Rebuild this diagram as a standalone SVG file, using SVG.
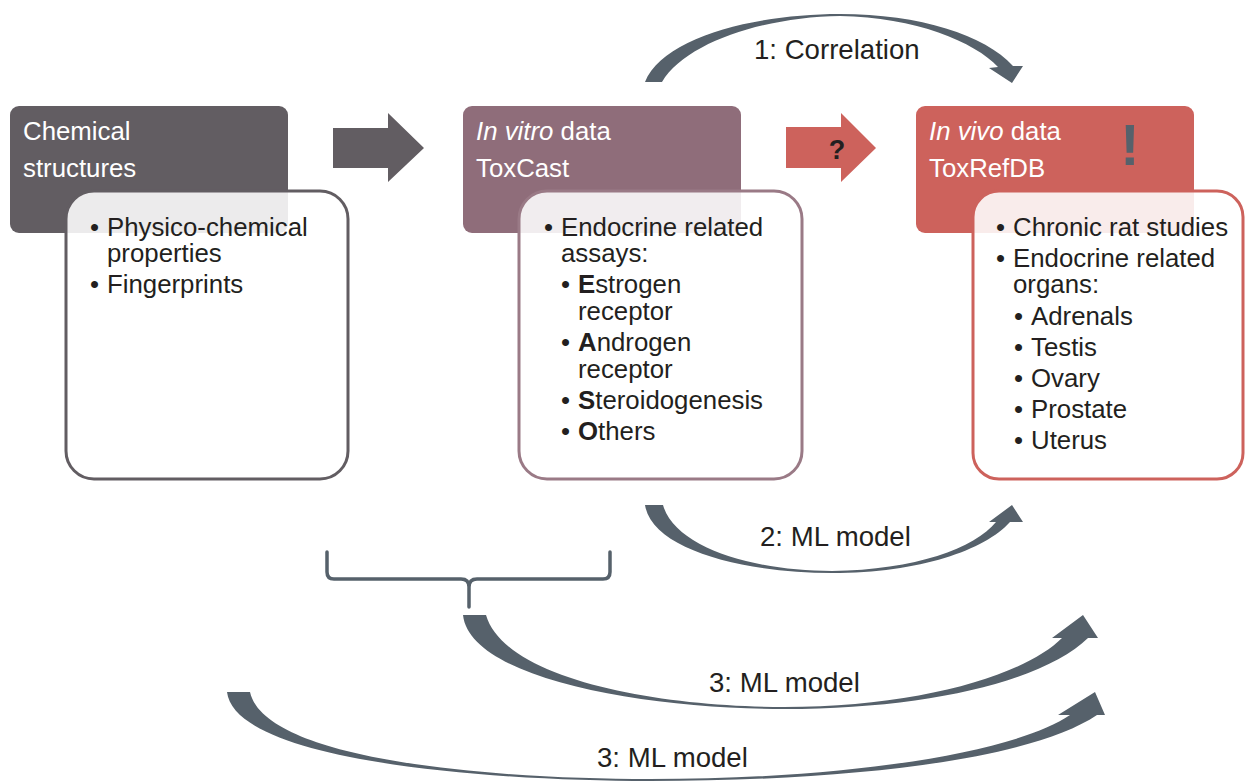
<svg xmlns="http://www.w3.org/2000/svg" width="1245" height="782" viewBox="0 0 1245 782">
<style>
  text { font-family: "Liberation Sans", Arial, sans-serif; }
  .hdr { fill: #ffffff; font-size: 25.8px; }
  .body { fill: #231f20; font-size: 25.8px; }
  .lbl { fill: #231f20; font-size: 27.6px; }
  .card { fill: #ffffff; fill-opacity: 0.88; stroke-width: 3; }
  .swoosh { fill: #56616b; }
</style>
<rect width="1245" height="782" fill="#ffffff"/>

<g id="node-chemical">
  <rect x="10" y="106" width="278" height="127" rx="9" fill="#625d62"/>
  <text class="hdr" x="23" y="140">Chemical</text>
  <text class="hdr" x="23" y="177">structures</text>
  <rect class="card" x="66" y="191" width="282" height="288" rx="28" stroke="#625d62"/>
  <text class="body" x="90" y="236">•</text>
  <text class="body" x="107" y="236">Physico-chemical</text>
  <text class="body" x="107" y="262">properties</text>
  <text class="body" x="90" y="293">•</text>
  <text class="body" x="107" y="293">Fingerprints</text>
</g>

<g id="node-invitro">
  <rect x="463" y="106" width="278" height="127" rx="9" fill="#8f6d7a"/>
  <text class="hdr" x="476" y="140"><tspan font-style="italic">In vitro</tspan> data</text>
  <text class="hdr" x="476" y="177">ToxCast</text>
  <rect class="card" x="519" y="191" width="283" height="288" rx="28" stroke="#9a7a86"/>
  <text class="body" x="544" y="236">•</text>
  <text class="body" x="561" y="236">Endocrine related</text>
  <text class="body" x="561" y="262">assays:</text>
  <text class="body" x="561" y="293">•</text>
  <text class="body" x="578" y="293"><tspan font-weight="bold">E</tspan>strogen</text>
  <text class="body" x="578" y="320">receptor</text>
  <text class="body" x="561" y="351">•</text>
  <text class="body" x="578" y="351"><tspan font-weight="bold">A</tspan>ndrogen</text>
  <text class="body" x="578" y="378">receptor</text>
  <text class="body" x="561" y="409">•</text>
  <text class="body" x="578" y="409"><tspan font-weight="bold">S</tspan>teroidogenesis</text>
  <text class="body" x="561" y="440">•</text>
  <text class="body" x="578" y="440"><tspan font-weight="bold">O</tspan>thers</text>
</g>

<g id="node-invivo">
  <rect x="916" y="106" width="278" height="127" rx="9" fill="#cd625c"/>
  <text class="hdr" x="929" y="140"><tspan font-style="italic">In vivo</tspan> data</text>
  <text class="hdr" x="929" y="177">ToxRefDB</text>
  <text x="1130" y="165" text-anchor="middle" font-size="58" font-weight="bold" fill="#56616b">!</text>
  <rect class="card" x="973" y="191" width="270" height="288" rx="26" stroke="#cd625c"/>
  <text class="body" x="996" y="236">•</text>
  <text class="body" x="1013" y="236">Chronic rat studies</text>
  <text class="body" x="996" y="267">•</text>
  <text class="body" x="1013" y="267">Endocrine related</text>
  <text class="body" x="1013" y="293">organs:</text>
  <text class="body" x="1014" y="325">•</text>
  <text class="body" x="1031" y="325">Adrenals</text>
  <text class="body" x="1014" y="356">•</text>
  <text class="body" x="1031" y="356">Testis</text>
  <text class="body" x="1014" y="387">•</text>
  <text class="body" x="1031" y="387">Ovary</text>
  <text class="body" x="1014" y="418">•</text>
  <text class="body" x="1031" y="418">Prostate</text>
  <text class="body" x="1014" y="449">•</text>
  <text class="body" x="1031" y="449">Uterus</text>
</g>

<g id="connectors">
  <polygon points="333,128 388,128 388,113 424,148 388,182 388,168 333,168" fill="#625d62"/>
  <polygon points="786,127 841,127 841,113 876,148 841,182 841,168 786,168" fill="#cd625c"/>
  <text x="837" y="159" text-anchor="middle" font-size="27" font-weight="bold" fill="#231f20">?</text>

  <path class="swoosh" d="M 645,82 C 663,37 755,14 840,14 C 920,14 985,35 1013,66 L 1023,66 L 1012,83 L 989,68 L 998,67 C 975,42 915,17 840,16 C 765,17 686,42 662,82 Z"/>
  <text class="lbl" x="754" y="59">1: Correlation</text>

  <path class="swoosh" d="M 645,505 C 652,550 745,573 832,573 C 920,573 985,550 1010,522 L 1023,522 L 1012,505 L 989,522 L 996,522 C 975,548 915,570 832,571 C 755,571 675,548 663,505 Z"/>
  <text class="lbl" x="760" y="546">2: ML model</text>

  <path d="M 327,552 L 327,572 Q 327,579 334,579 L 461,579 Q 469,579 469,587 L 469,607 M 469,587 Q 469,579 477,579 L 603,579 Q 610,579 610,572 L 610,552" fill="none" stroke="#56616b" stroke-width="3.5" stroke-linecap="round" stroke-linejoin="round"/>

  <path class="swoosh" d="M 463,615 C 470,680 650,709 784,709 C 930,709 1045,680 1088,638 L 1098,638 L 1083,615 L 1052,638 L 1062,638 C 1025,675 920,707 784,707 C 660,707 505,680 486,615 Z"/>
  <text class="lbl" x="709" y="692">3: ML model</text>

  <path class="swoosh" d="M 227,692 C 235,760 480,781 650,781 C 850,781 1030,760 1097,715 L 1105,715 L 1095,692 L 1058,715 L 1070,715 C 1010,755 840,779 650,779 C 490,779 265,760 250,692 Z"/>
  <text class="lbl" x="597" y="767">3: ML model</text>
</g>
</svg>
